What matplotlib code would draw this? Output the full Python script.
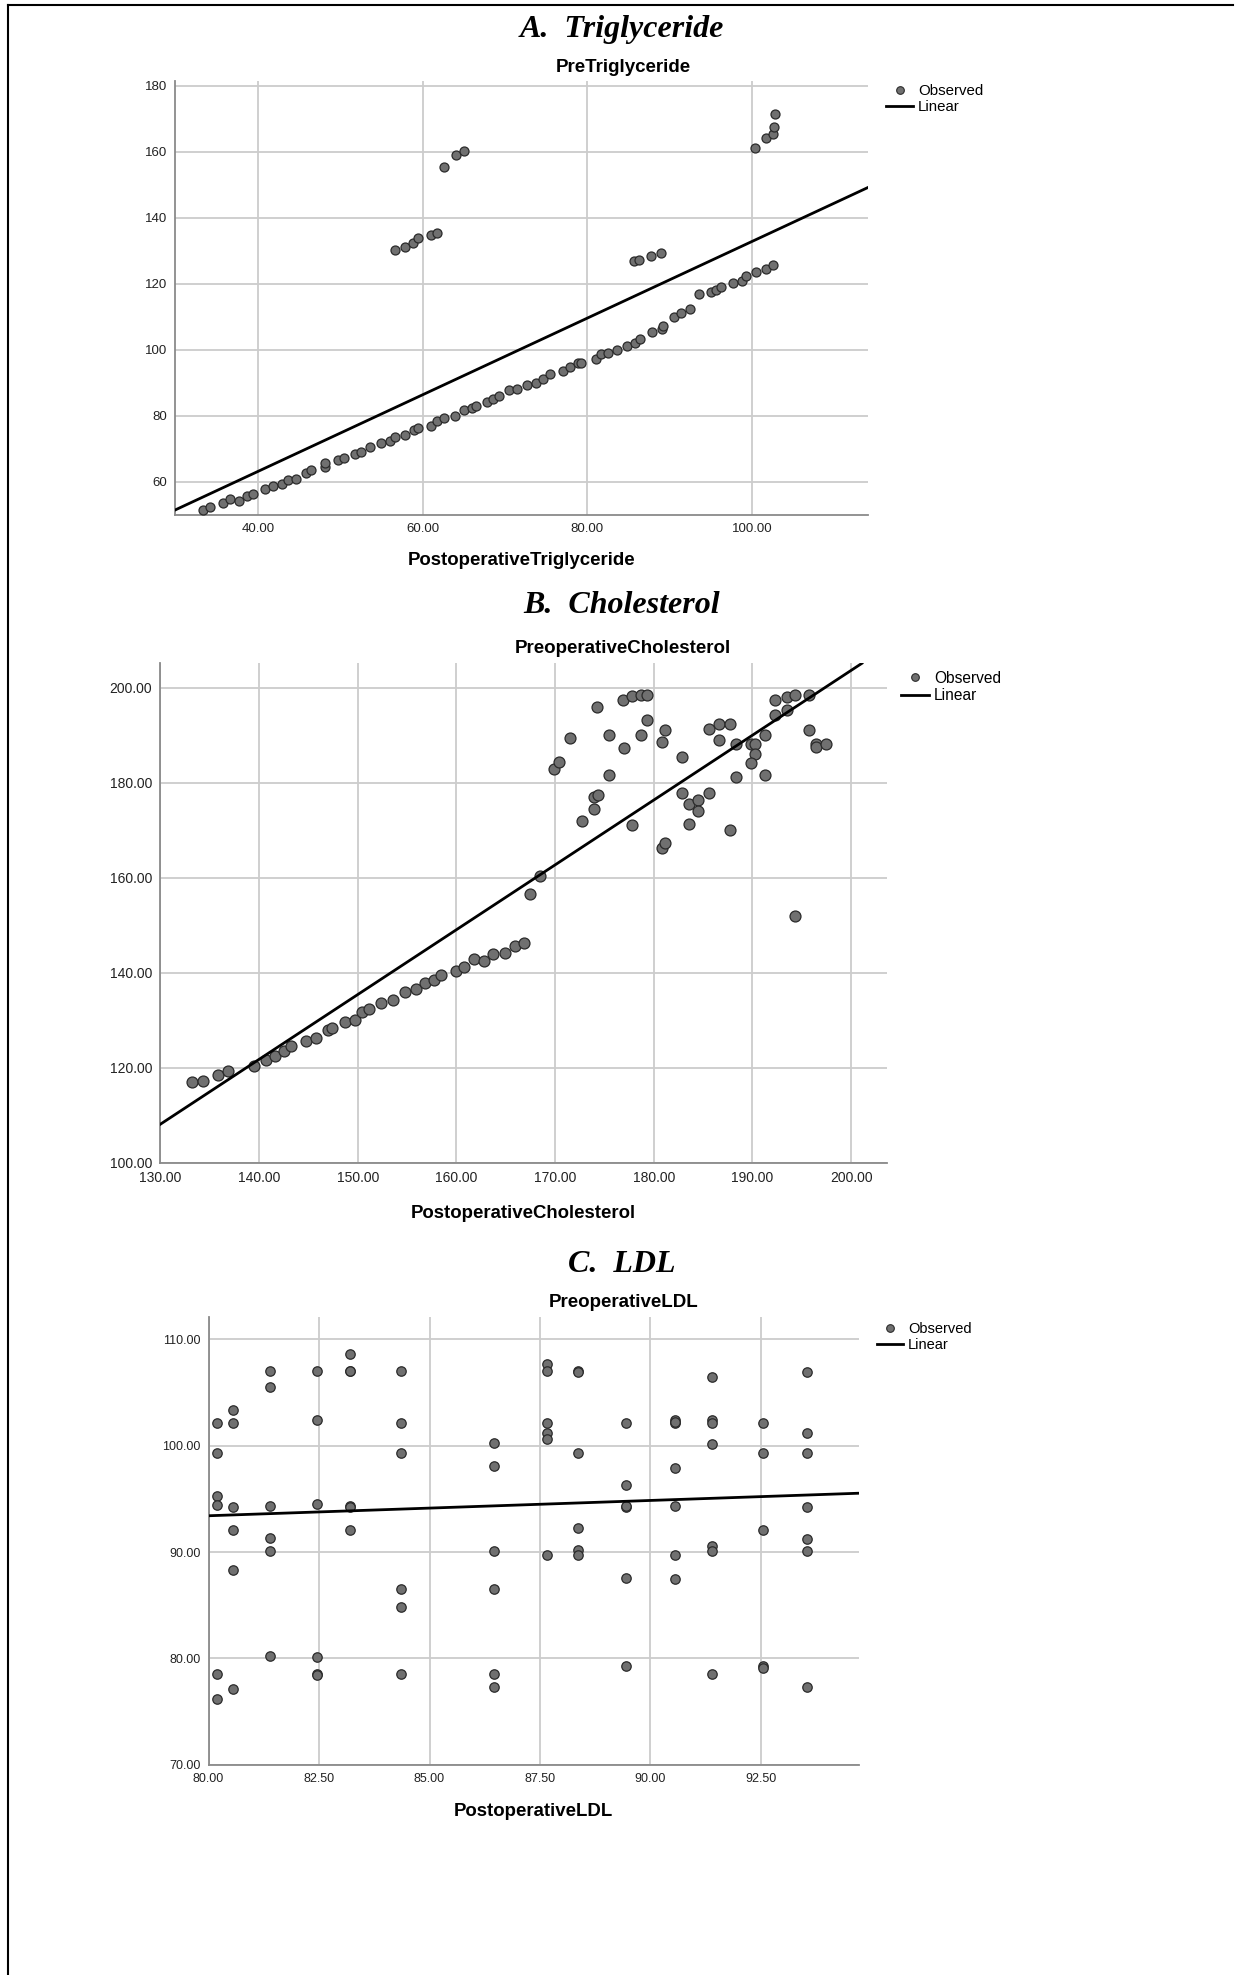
import numpy as np
import matplotlib
matplotlib.use("Agg")
import matplotlib.pyplot as plt
from matplotlib.lines import Line2D
from matplotlib.ticker import FormatStrFormatter

# ---- A. Triglyceride ----
tg_post = [33.3, 34.2, 35.8, 36.6, 37.7, 38.7, 39.4, 40.9, 41.8, 42.9, 43.7, 44.6,
           45.9, 46.4, 48.1, 48.2, 49.7, 50.5, 51.8, 52.5, 53.6, 54.9, 56.0, 56.6,
           57.9, 58.9, 59.4, 61.0, 61.7, 62.6, 63.9, 65.0, 66.0, 66.5, 67.8, 68.6,
           69.3, 70.5, 71.4, 72.7, 73.7, 74.6, 75.5, 77.0, 77.9, 78.8, 79.2, 81.0,
           81.7, 82.5, 83.6, 84.8, 85.8, 86.4, 87.8, 89.0, 89.2, 90.5, 91.4, 92.5,
           93.6, 95.0, 95.6, 96.2, 97.7, 98.8, 99.2, 100.4, 101.7, 102.5,
           85.7, 86.3, 87.7, 88.9,
           100.3, 101.7, 102.5, 102.7, 102.8,
           56.6, 57.9, 58.8, 59.5, 61.0, 61.7, 62.6, 64.0, 65.0]
tg_pre = [51.6, 52.4, 53.5, 54.8, 54.2, 55.8, 56.3, 57.8, 58.7, 59.4, 60.5, 61.0,
          62.8, 63.5, 64.4, 65.8, 66.6, 67.3, 68.6, 69.2, 70.5, 71.7, 72.4, 73.5,
          74.2, 75.7, 76.4, 77.1, 78.4, 79.5, 80.0, 81.7, 82.5, 83.0, 84.2, 85.1,
          86.2, 88.0, 88.3, 89.3, 90.1, 91.3, 92.8, 93.6, 94.7, 95.9, 96.1, 97.3,
          98.7, 99.1, 100.1, 101.2, 102.1, 103.2, 105.5, 106.2, 107.3, 110.1, 111.2, 112.3,
          116.9, 117.6, 118.3, 119.2, 120.2, 121.0, 122.3, 123.5, 124.5, 125.7,
          126.8, 127.3, 128.5, 129.5,
          161.2, 164.2, 165.5, 167.4, 171.5,
          130.4, 131.1, 132.4, 133.8, 134.7, 135.3, 155.3, 159.2, 160.2]
tg_fit = (16.7, 1.162)  # intercept, slope

# ---- B. Cholesterol ----
chol_post = [133.2, 134.3, 135.8, 136.9, 139.5, 140.7, 141.6, 142.5, 143.2, 144.8,
             145.8, 147.0, 147.4, 148.7, 149.7, 150.4, 151.1, 152.4, 153.6, 154.8,
             155.9, 156.8, 157.7, 158.4, 160.0, 160.8, 161.8, 162.8, 163.7, 164.9,
             165.9, 166.8, 167.5, 168.5, 169.9, 170.4, 171.5, 172.7, 173.9, 173.9,
             174.3, 174.2,
             175.5, 175.5, 176.9, 177.0, 177.8, 177.8, 178.7, 178.7, 179.3, 179.3,
             180.8, 181.1, 180.8, 181.1, 182.9, 182.9, 183.6, 183.6, 184.5, 184.5,
             185.6, 185.6, 186.6, 186.6, 187.7, 187.7, 188.3, 188.3, 189.9, 190.3,
             190.3, 189.9, 191.3, 191.3, 192.3, 192.3, 193.5, 193.5, 194.3, 194.3,
             195.7, 195.7, 196.4, 196.4, 197.5]
chol_pre = [117.1, 117.3, 118.6, 119.4, 120.5, 121.7, 122.6, 123.5, 124.6, 125.6,
            126.4, 127.9, 128.4, 129.6, 130.1, 131.7, 132.4, 133.7, 134.3, 135.9,
            136.7, 137.8, 138.5, 139.6, 140.4, 141.3, 142.9, 142.6, 143.9, 144.3,
            145.7, 146.4, 156.6, 160.4, 183.0, 184.5, 189.4, 172.0, 174.6, 177.0,
            177.5, 196.1,
            190.1, 181.7, 197.4, 187.3, 171.2, 198.4, 198.6, 190.1, 198.6, 193.2,
            188.7, 191.2, 166.4, 167.4, 185.4, 177.9, 175.5, 171.4, 176.4, 174.2,
            191.3, 177.9, 192.5, 189.0, 192.5, 170.2, 188.2, 181.2, 188.2, 188.2,
            186.0, 184.2, 190.2, 181.7, 197.4, 194.3, 198.2, 195.3, 198.5, 152.0,
            198.5, 191.1, 188.2, 187.5, 188.2]
chol_fit = (-69.3, 1.365)

# ---- C. LDL ----
ldl_post = [80.2] * 6 + [80.55] * 6 + [81.4] * 6 + [82.45] * 6 + [83.2] * 6 + \
           [84.35] * 6 + [86.45] * 6 + [87.65] * 6 + [88.35] * 6 + [89.45] * 6 + \
           [90.55] * 7 + [91.4] * 7 + [92.55] * 5 + [93.55] * 7
ldl_pre = [102.1, 99.3, 95.3, 94.4, 78.5, 76.2,
           103.4, 102.1, 94.2, 92.1, 88.3, 77.1,
           107.0, 105.5, 94.3, 91.3, 90.1, 80.2,
           107.0, 102.4, 94.5, 80.1, 78.5, 78.4,
           108.6, 107.0, 107.0, 94.3, 94.2, 92.1,
           107.0, 102.1, 99.3, 86.5, 84.8, 78.5,
           100.3, 98.1, 90.1, 86.5, 78.5, 77.3,
           107.7, 107.0, 102.1, 101.2, 100.6, 89.7,
           107.0, 106.9, 99.3, 92.3, 90.2, 89.7,
           102.1, 96.3, 94.2, 94.3, 87.6, 79.3,
           102.4, 102.1, 102.2, 97.9, 94.3, 89.7, 87.5,
           106.5, 102.4, 102.1, 100.2, 90.6, 90.1, 78.5,
           102.1, 99.3, 92.1, 79.3, 79.1,
           106.9, 101.2, 99.3, 94.2, 91.2, 90.1, 77.3]
ldl_fit = (81.89, 0.144)

W, H = 1239, 1975
fig = plt.figure(figsize=(W / 100, H / 100), dpi=100)
plt.rcParams['font.family'] = ['Liberation Sans', 'DejaVu Sans']

GRID = '#cccccc'
FILL = '#707070'
EDGE = '#2a2a2a'


def px_axes(left, top, right, bottom):
    return fig.add_axes([left / W, 1 - bottom / H, (right - left) / W, (bottom - top) / H])


def fy(py):
    return 1 - py / H


def panel(box, x, y, fit, xlim, ylim, xticks, yticks, xfmt, yfmt, msize, tsize, lsize,
          title, sub, xlabel, title_y, sub_y, xlabel_y, leg_anchor):
    ax = px_axes(*box)
    ax.set_xlim(*xlim)
    ax.set_ylim(*ylim)
    ax.set_xticks(xticks)
    ax.set_yticks(yticks)
    ax.xaxis.set_major_formatter(FormatStrFormatter(xfmt))
    ax.yaxis.set_major_formatter(FormatStrFormatter(yfmt))
    ax.grid(True, color=GRID, linewidth=1.3)
    ax.set_axisbelow(True)
    for s in ('top', 'right'):
        ax.spines[s].set_visible(False)
    for s in ('left', 'bottom'):
        ax.spines[s].set_color('#8a8a8a')
        ax.spines[s].set_linewidth(1.3)
    ax.tick_params(length=0, labelsize=tsize, labelcolor='#222222', pad=6)
    ax.scatter(x, y, s=msize, c=FILL, edgecolors=EDGE, linewidths=0.9, zorder=3)
    ax.axline((0, fit[0]), slope=fit[1], color='black', linewidth=2.0, zorder=4)

    cx = (box[0] + box[2]) / 2 / W
    fig.text(0.502, fy(title_y), title, ha='center', va='baseline', fontsize=23,
             family='Liberation Serif', weight='bold', style='italic')
    fig.text(0.503, fy(sub_y), sub, ha='center', va='center', fontsize=13.5, weight='bold')
    fig.text(cx, fy(xlabel_y), xlabel, ha='center', va='center', fontsize=13.4, weight='bold')

    handles = [Line2D([], [], marker='o', linestyle='none', markerfacecolor=FILL,
                      markeredgecolor=EDGE, markersize=5.5, markeredgewidth=0.8),
               Line2D([], [], color='black', linewidth=2)]
    ax.legend(handles, ['Observed', 'Linear'], loc='upper left', bbox_to_anchor=leg_anchor,
              frameon=False, fontsize=lsize, handlelength=1.8, handletextpad=0.3,
              borderaxespad=0, borderpad=0, labelspacing=0.15)
    return ax


panel((175.4, 80.6, 867.6, 515), tg_post, tg_pre, tg_fit, (30, 114), (50, 181.6),
      [40, 60, 80, 100], list(range(60, 181, 20)), '%.2f', '%d', 42, 9.5, 10.8,
      'A.  Triglyceride', 'PreTriglyceride', 'PostoperativeTriglyceride',
      36.5, 68, 560.5, (1.027, 0.992))

panel((160.4, 663.3, 886.6, 1162.9), chol_post, chol_pre, chol_fit, (130, 203.6), (100, 205.2),
      list(range(130, 201, 10)), list(range(100, 201, 20)), '%.2f', '%.2f', 62, 10, 11.2,
      'B.  Cholesterol', 'PreoperativeCholesterol', 'PostoperativeCholesterol',
      613, 648.2, 1213.4, (1.02, 0.985))

panel((208.6, 1317.4, 859, 1764.6), ldl_post, ldl_pre, ldl_fit, (80, 94.72), (70, 112.07),
      [80, 82.5, 85, 87.5, 90, 92.5], [70, 80, 90, 100, 110], '%.2f', '%.2f', 46, 9, 10.5,
      'C.  LDL', 'PreoperativeLDL', 'PostoperativeLDL',
      1272, 1302.4, 1811, (1.028, 0.99))

# page frame (left and top edges)
fig.add_artist(Line2D([8 / W, 8 / W], [0, fy(5)], color='black', linewidth=1.5))
fig.add_artist(Line2D([8 / W, 1233 / W], [fy(5), fy(5)], color='black', linewidth=1.5))

fig.savefig('out.png', dpi=100)
